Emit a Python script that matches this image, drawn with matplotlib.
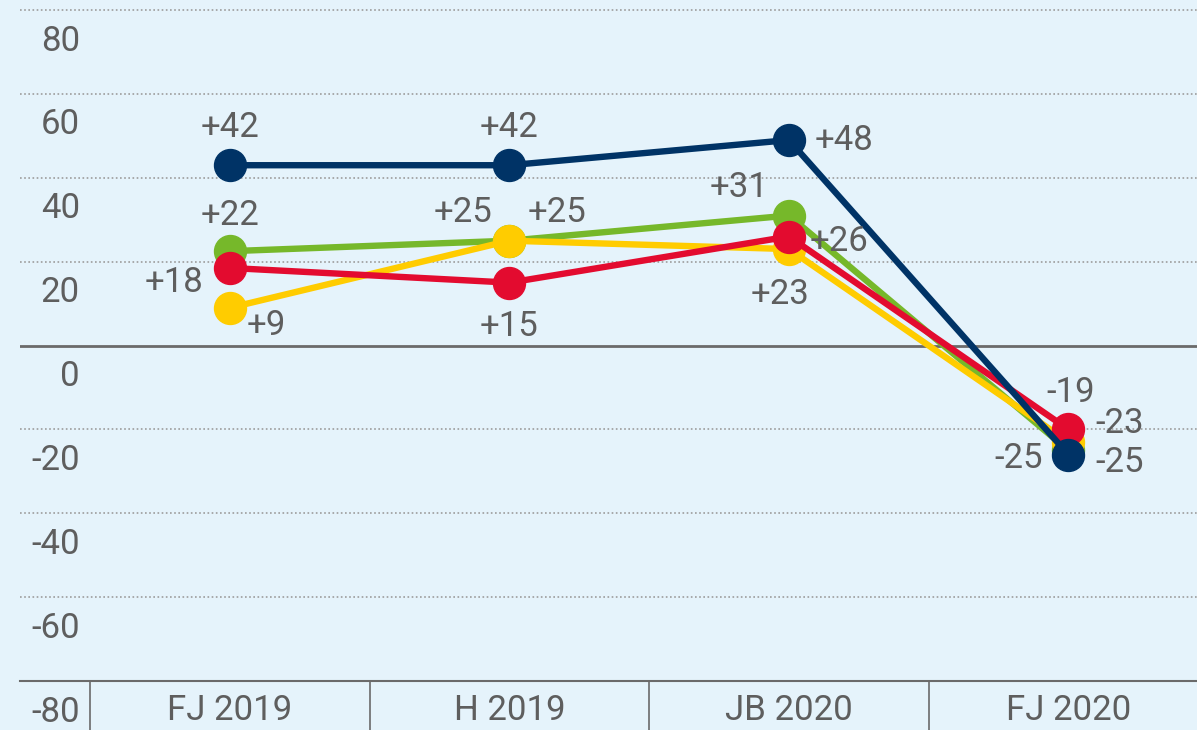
"""Survey balance chart: four series across four survey waves."""

import matplotlib

matplotlib.use("Agg")
import matplotlib.pyplot as plt

# Data
categories = ["FJ 2019", "H 2019", "JB 2020", "FJ 2020"]
blue_values = [43, 43, 49, -26]
green_values = [22.5, 25, 31, -25]
yellow_values = [9, 25, 23, -23]
red_values = [18.5, 15, 26, -20]

blue_labels = ["+42", "+42", "+48", "-25"]
green_labels = ["+22", "+25", "+31", "-25"]
yellow_labels = ["+9", "+25", "+23", "-23"]
red_labels = ["+18", "+15", "+26", "-19"]

y_ticks = [80, 60, 40, 20, 0, -20, -40, -60, -80]

# Styling
BG = "#e5f3fb"
TEXT = "#5e5e5e"
AXIS_GRAY = "#6a6a6a"
FONT = "Roboto"
FS = 25

plt.rcParams["font.family"] = [FONT, "DejaVu Sans"]

# Label placement: (dx px, dy px, ha) per point, in series order
offsets = {
    "blue": [(0, 38, "center"), (0, 38, "center"), (26, 0, "left"), (27, -8, "left")],
    "green": [(0, 36, "center"), (18, 28, "left"), (-21, 28, "right"), (-26, -8, "right")],
    "yellow": [(17, -18, "left"), (-17, 28, "right"), (-9, -45, "center"), (27, 18, "left")],
    "red": [(-27, -15, "right"), (0, -44, "center"), (21, -5, "left"), (2, 37, "center")],
}

series = [
    ("green", "#76b82a", green_values, green_labels),
    ("yellow", "#ffcc00", yellow_values, yellow_labels),
    ("red", "#e30b2f", red_values, red_labels),
    ("blue", "#003366", blue_values, blue_labels),
]

fig = plt.figure(figsize=(11.97, 7.30), dpi=100, facecolor=BG)
ax = fig.add_axes([20 / 1197, 49 / 730, 1177 / 1197, 681 / 730])
ax.set_facecolor(BG)

x = list(range(len(categories)))
ax.set_xlim(-0.751, 3.46)
ax.set_ylim(-80, 82.4)

# Grid lines
for v in y_ticks:
    if v == 0:
        ax.axhline(v, color=AXIS_GRAY, lw=2.0, zorder=1)
    elif v == -80:
        continue
    else:
        ax.axhline(v, color="#9c9c9c", lw=1.2, ls=(0, (1, 1.5)), zorder=1)

for name in ["top", "right", "left"]:
    ax.spines[name].set_visible(False)
ax.spines["bottom"].set_color(AXIS_GRAY)
ax.spines["bottom"].set_linewidth(1.5)

# Y labels sit inside the plot, below their grid line
for v in y_ticks:
    ax.annotate(
        str(v), xy=(60 / 1177, v), xycoords=ax.get_yaxis_transform(),
        xytext=(0, -31), textcoords="offset pixels",
        ha="right", va="center", fontsize=FS, color=TEXT,
        annotation_clip=False,
    )
ax.set_yticks([])

# Category labels and separators below the axis
ax.set_xticks(x)
ax.set_xticklabels([])
ax.tick_params(axis="x", which="major", length=0)
ax.set_xticks([i - 0.5 for i in x], minor=True)
ax.tick_params(axis="x", which="minor", direction="out", length=36,
               width=1.2, color=AXIS_GRAY)
for i, cat in enumerate(categories):
    ax.annotate(
        cat, xy=(i, -80), xycoords="data", xytext=(0, -29),
        textcoords="offset pixels", ha="center", va="center",
        fontsize=FS, color=TEXT, annotation_clip=False,
    )

# Series
for z, (name, color, values, labels) in enumerate(series):
    ax.plot(x, values, color=color, lw=4.6, marker="o", markersize=23,
            solid_capstyle="round", zorder=3 + z)
    for i, (val, lab) in enumerate(zip(values, labels)):
        dx, dy, ha = offsets[name][i]
        ax.annotate(
            lab, xy=(i, val), xytext=(dx, dy), textcoords="offset pixels",
            ha=ha, va="center", fontsize=FS, color=TEXT, zorder=10,
        )

fig.savefig("out.png", dpi=100, facecolor=BG)
